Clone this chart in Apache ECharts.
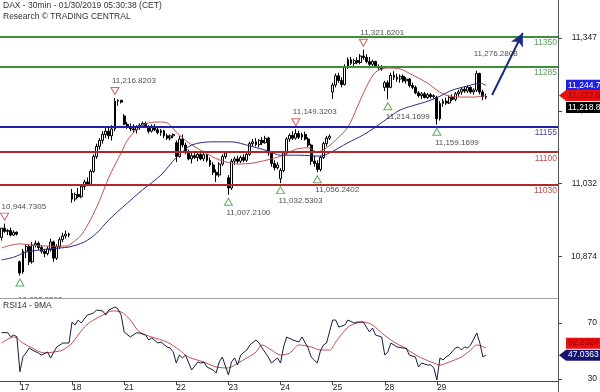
<!DOCTYPE html>
<html><head><meta charset="utf-8">
<script src="https://cdn.jsdelivr.net/npm/echarts@6/dist/echarts.min.js"></script>
<style>html,body{margin:0;padding:0;background:#fff}#c{width:600px;height:392px}</style>
</head><body><div id="c"></div>
<script>
const FONT = '"Liberation Sans", Arial, sans-serif';

// ---- session structure ----
const days = ['16','17','18','21','22','23','24','25','28','29'];
const halfHours = ['09:00','09:30','10:00','10:30','11:00','11:30','12:00','12:30','13:00','13:30','14:00','14:30','15:00','15:30','16:00','16:30','17:00'];
const futureSlots = 23;

// ---- candles: [open, close, low, high] ----
const bars16 = [[10915,10935,10908,10935],[10935,10928,10925,10944.73],[10928,10930,10920,10933],[10930,10920,10917,10936],[10920,10926,10918,10930],[10926,10922,10919,10928]];
const bars17 = [[10862,10838,10832.25,10865],[10840,10885,10836,10890],[10885,10895,10870,10900],[10895,10862,10855,10900],[10862,10898,10858,10905],[10898,10902,10893,10908],[10902,10893,10888,10906],[10893,10885,10880,10898],[10885,10880,10872,10890],[10880,10890,10876,10895],[10888,10905,10884,10912],[10905,10870,10862,10908],[10870,10895,10866,10900],[10895,10910,10890,10915],[10910,10918,10905,10925],[10918,10922,10912,10930],[10922,10920,10915,10925]];
const bars18 = [[11010,10998,10990,11020],[10998,11008,10993,11012],[11008,11003,11000,11022],[11003,11025,11000,11030],[11025,11035,11018,11040],[11035,11030,11028,11045],[11030,11058,11027,11062],[11058,11090,11055,11095],[11090,11112,11085,11118],[11112,11125,11105,11130],[11125,11138,11118,11145],[11138,11145,11130,11152],[11145,11135,11128,11155],[11135,11150,11125,11158],[11150,11210,11145,11216.82],[11210,11212,11200,11214],[11212,11208,11205,11213]];
const bars21 = [[11178,11160,11158,11182],[11160,11155,11150,11165],[11155,11150,11145,11162],[11150,11148,11142,11160],[11148,11155,11140,11158],[11155,11158,11148,11162],[11158,11162,11152,11166],[11162,11155,11152,11166],[11155,11145,11140,11158],[11145,11156,11142,11160],[11156,11148,11145,11160],[11148,11142,11138,11155],[11142,11146,11135,11150],[11146,11135,11130,11148],[11135,11130,11126,11140],[11130,11135,11125,11138],[11135,11138,11130,11140]];
const bars22 = [[11120,11090,11078,11125],[11090,11128,11088,11135],[11128,11115,11110,11138],[11115,11100,11095,11120],[11100,11085,11082,11105],[11085,11092,11075,11098],[11092,11088,11085,11100],[11088,11095,11080,11098],[11095,11085,11082,11100],[11085,11094,11080,11098],[11094,11082,11078,11096],[11082,11072,11068,11088],[11072,11056,11050,11078],[11056,11050,11035,11062],[11050,11074,11046,11078],[11074,11090,11070,11095],[11090,11098,11085,11102]];
const bars23 = [[11044,11022,11007.21,11050],[11022,11080,11018,11085],[11080,11085,11072,11090],[11085,11080,11075,11092],[11080,11088,11076,11092],[11088,11082,11078,11095],[11082,11095,11078,11098],[11095,11118,11092,11122],[11118,11122,11112,11128],[11122,11116,11112,11130],[11116,11125,11110,11128],[11125,11120,11115,11132],[11120,11130,11118,11135],[11130,11098,11092,11133],[11098,11075,11068,11102],[11075,11066,11060,11082],[11066,11072,11062,11078]];
const bars24 = [[11042,11060,11032.53,11065],[11060,11098,11056,11102],[11098,11128,11094,11132],[11128,11136,11122,11140],[11136,11130,11126,11145],[11130,11140,11127,11149.32],[11140,11132,11128,11146],[11132,11138,11126,11142],[11138,11128,11125,11144],[11128,11115,11110,11132],[11115,11080,11072,11118],[11080,11075,11068,11092],[11075,11062,11056.24,11082],[11062,11088,11058,11092],[11088,11118,11085,11122],[11118,11130,11112,11135],[11130,11134,11126,11138]];
const bars25 = [[11230,11245,11215,11250],[11245,11265,11240,11270],[11265,11255,11250,11272],[11255,11246,11240,11262],[11246,11285,11244,11290],[11285,11300,11280,11305],[11300,11292,11288,11306],[11292,11298,11285,11302],[11298,11294,11290,11305],[11294,11308,11290,11312],[11308,11305,11300,11321.62],[11305,11296,11292,11312],[11296,11290,11285,11306],[11290,11296,11284,11300],[11296,11285,11282,11298],[11285,11282,11278,11290],[11282,11280,11276,11288]];
const bars28 = [[11240,11250,11232,11254],[11250,11240,11214.17,11255],[11240,11266,11238,11272],[11266,11262,11256,11275],[11262,11258,11252,11270],[11258,11264,11250,11268],[11264,11254,11250,11268],[11254,11258,11248,11262],[11258,11244,11240,11260],[11244,11240,11236,11250],[11240,11228,11225,11244],[11228,11222,11218,11232],[11222,11226,11215,11230],[11226,11218,11216,11230],[11218,11224,11215,11228],[11224,11220,11216,11228],[11220,11222,11215,11225]];
const bars29 = [[11218,11172,11159.17,11222],[11172,11205,11168,11210],[11205,11210,11198,11215],[11210,11206,11202,11218],[11206,11218,11204,11222],[11218,11214,11210,11225],[11214,11226,11210,11230],[11226,11230,11220,11235],[11230,11236,11224,11240],[11236,11232,11228,11242],[11232,11240,11228,11244],[11240,11230,11226,11242],[11230,11234,11224,11238],[11234,11270,11230,11276.28],[11270,11230,11225,11272],[11230,11220,11212,11235],[11220,11218.8,11214,11226]];
const dayBars = [bars16, bars17, bars18, bars21, bars22, bars23, bars24, bars25, bars28, bars29];

// ---- moving averages: [barIndex, value] ----
const redMA = [[0,10892],[3,10898],[6,10901],[10,10898],[16,10896],[21,10896],[23,10903],[26,10920],[29,10953],[32,10995],[35,11045],[39,11098],[41,11125],[44,11148],[47,11161],[51,11165],[54,11163],[57,11143],[61,11120],[66,11100],[71,11083],[77,11074],[82,11076],[88,11085],[92,11093],[96,11106],[100,11109],[103,11100],[106,11109],[109,11126],[113,11154],[116,11197],[119,11241],[122,11273],[126,11282],[130,11280],[134,11267],[139,11249],[142,11234],[145,11223],[150,11219],[154,11219],[158,11222.6]];
const blueMA = [[0,10866],[4,10872],[8,10883],[13,10888],[19,10892],[22,10894],[27,10905],[31,10924],[35,10953],[41,10989],[46,11018],[52,11050],[57,11088],[62,11115],[69,11122],[75,11122],[81,11113],[87,11102],[91,11093],[97,11093],[104,11091],[107,11098],[113,11120],[118,11137],[122,11154],[127,11178],[130,11191],[134,11200],[139,11210],[143,11221],[147,11234],[152,11243],[156,11249],[158,11244.7]];

// ---- RSI(14) and its 9MA ----
const rsi = [[0,63.1],[2,63.1],[3,60.2],[4,61.4],[5,60.2],[6,35.2],[7,46],[8,48.6],[9,52.1],[10,50.7],[12,48.6],[13,47.1],[15,49.3],[16,45],[18,52.9],[20,55.7],[21,55.7],[22,55.7],[23,70.7],[24,68.6],[25,72.1],[26,70],[27,72.9],[28,75.7],[30,77.1],[31,79.3],[33,78.6],[34,75.7],[35,79.3],[37,81.4],[38,80],[39,75.7],[40,63.6],[42,60],[44,62.9],[45,62.9],[47,61.4],[48,57.9],[49,59.3],[51,55.7],[52,56.4],[54,52.9],[55,52.1],[56,49.3],[57,41.4],[58,47.1],[59,45],[60,47.1],[62,36.4],[64,42.1],[65,41.4],[66,42.1],[67,38.6],[69,36.4],[70,34.3],[71,42.1],[72,45.7],[74,32.9],[75,42.1],[76,45],[77,40],[78,47.1],[80,50.7],[81,54.3],[83,57.9],[84,55.7],[85,52.1],[87,45.7],[88,41.4],[90,45],[91,41.4],[92,52.9],[93,60],[95,57.9],[97,56.4],[98,60],[100,52.1],[101,45.7],[102,43.6],[103,41.4],[104,50],[105,54.3],[106,55.7],[108,72.1],[109,72.1],[110,67.1],[112,68.6],[113,72.1],[115,70],[116,70.7],[118,70.7],[119,67.1],[120,63.6],[121,66.4],[122,61.4],[124,60],[125,47.1],[126,49.3],[127,55.7],[129,52.9],[131,52.1],[132,52.1],[133,47.1],[135,45.7],[136,38.6],[137,41.4],[139,40],[140,40],[141,37.9],[142,29.3],[143,45],[144,43.6],[145,45.7],[146,47.1],[148,52.1],[149,52.9],[150,50.7],[151,52.9],[152,52.1],[153,54.3],[155,62.9],[156,55.7],[157,45.7],[158,47.0363]];
const rsiMA = [[0,55.7],[4,60],[7,55.7],[10,52.1],[14,48.6],[17,49.3],[20,50.7],[23,55.7],[27,67.1],[30,72.1],[33,75.7],[36,78.6],[39,77.9],[42,72.1],[45,63.6],[49,60],[54,56.4],[58,50.7],[61,45.7],[66,42.1],[70,38.6],[74,37.9],[77,41.4],[80,45],[83,49.3],[85,54.3],[88,50.7],[91,47.1],[94,48.6],[97,54.3],[101,52.9],[104,50.7],[107,50.7],[109,56.4],[113,67.1],[116,70],[118,70.7],[121,68.6],[124,62.9],[128,56.4],[131,52.9],[134,48.6],[137,45],[141,41.4],[143,40],[146,42.1],[150,45.7],[153,50.7],[155,54.3],[158,52.2324]];

// ---- pivots ----
const pivotHighs = [[1,10944.7305],[37,11216.8203],[96,11149.3203],[118,11321.6201],[155,11276.2808]];
const pivotLows = [[6,10832.25],[74,11007.21],[91,11032.5303],[103,11056.2402],[126,11214.1699],[142,11159.1699]];

// ---- support / resistance levels ----
const levelValues = [11350, 11285, 11155, 11100, 11030];
const levelKinds  = ['res', 'res', 'pivot', 'sup', 'sup'];
const arrowFrom = [160, 11223.5];
const arrowTo = [170, 11357.8];

// ---- axis ticks ----
const priceTicks = [10874, 11032, 11189, 11347];
const rsiTicks = [30, 70];
const lastClose = 11218.8;

// ---- build ----
const categories = [];
const ohlc = [];
dayBars.forEach((b, di) => {
  const times = halfHours.slice(halfHours.length - b.length);
  b.forEach((bar, k) => { categories.push(days[di] + ' ' + times[k]); ohlc.push(bar); });
});
for (let k = 0; k < futureSlots; k++) categories.push('next ' + k);
const isDayStart = (idx) => /09:00$/.test(categories[idx] || '');

function fmtNum(v, dec) {
  const s = v.toFixed(dec); const parts = s.split('.');
  return parts[0].replace(/\B(?=(\d{3})+$)/g, ',') + (parts[1] ? '.' + parts[1] : '');
}
const kindStyle = {
  res:   {line: '#3c8f3c', text: '#5aa05a'},
  pivot: {line: '#2020a8', text: '#4848a8'},
  sup:   {line: '#b42828', text: '#b85050'}
};

const chart = echarts.init(document.getElementById('c'), null, {renderer: 'canvas'});
const labelFont = {fontFamily: FONT, fontSize: 8.5, color: '#222'};

const option = {
  animation: false,
  textStyle: {fontFamily: FONT},
  grid: [
    {left: 0, top: 0, width: 558, height: 298},
    {left: 0, top: 298, width: 558, height: 83}
  ],
  xAxis: [
    {type: 'category', gridIndex: 0, data: categories, boundaryGap: true,
     axisLine: {show: true, lineStyle: {color: '#444', width: 1}}, axisTick: {show: false}, axisLabel: {show: false}, splitLine: {show: false}},
    {type: 'category', gridIndex: 1, data: categories, boundaryGap: true, z: 60,
     axisLine: {show: true, lineStyle: {color: '#444', width: 1}},
     axisTick: {show: true, alignWithLabel: true, interval: isDayStart, length: 4, lineStyle: {color: '#444'}},
     axisLabel: Object.assign({show: true, interval: isDayStart, formatter: v => v.split(' ')[0], align: 'left', margin: 2}, labelFont),
     splitLine: {show: false}}
  ],
  yAxis: [
    {type: 'value', gridIndex: 0, position: 'right', min: 10783.6, max: 11429.3,
     axisLine: {show: false}, splitLine: {show: false},
     axisTick: {show: true, customValues: priceTicks, length: 4, lineStyle: {color: '#444'}},
     axisLabel: Object.assign({customValues: priceTicks, formatter: v => fmtNum(v, 0), align: 'right', margin: 39}, labelFont)},
    {type: 'value', gridIndex: 1, position: 'right', min: 28.57, max: 87.86, z: 60,
     axisLine: {show: false}, splitLine: {show: false},
     axisTick: {show: true, customValues: rsiTicks, length: 4, lineStyle: {color: '#444'}},
     axisLabel: Object.assign({customValues: rsiTicks, formatter: v => String(v), align: 'right', margin: 39}, labelFont)}
  ],
  series: [
    {type: 'candlestick', name: 'DAX', xAxisIndex: 0, yAxisIndex: 0, data: ohlc, barWidth: 2.4,
     itemStyle: {color: '#ffffff', color0: '#000000', borderColor: '#000000', borderColor0: '#000000', borderWidth: 1},
     markLine: {silent: true, symbol: ['none', 'none'], animation: false,
       data: levelValues.map((v, i) => ({
         yAxis: v,
         lineStyle: {color: kindStyle[levelKinds[i]].line, width: 2, type: 'solid'},
         label: {show: true, position: 'insideEndBottom', formatter: String(v), color: kindStyle[levelKinds[i]].text, fontSize: 8.5, fontFamily: FONT, distance: [1, 2]}
       })).concat([[
         {coord: arrowFrom, symbol: 'none', lineStyle: {color: '#1a2a80', width: 2, type: 'solid'}, label: {show: false}},
         {coord: arrowTo, symbol: 'arrow', symbolSize: [10, 13]}
       ]])
     }},
    {type: 'line', name: 'MA fast', xAxisIndex: 0, yAxisIndex: 0, data: redMA, symbol: 'none', smooth: 0.3,
     lineStyle: {color: '#c0504d', width: 1}, z: 3},
    {type: 'line', name: 'MA slow', xAxisIndex: 0, yAxisIndex: 0, data: blueMA, symbol: 'none', smooth: 0.3,
     lineStyle: {color: '#2a2a8a', width: 1}, z: 3},
    {type: 'scatter', name: 'highs', xAxisIndex: 0, yAxisIndex: 0, z: 5,
     data: pivotHighs.map((p, i) => i === pivotHighs.length - 1 ? {value: p, symbol: 'none'} : {value: p}),
     symbol: 'triangle', symbolRotate: 180, symbolSize: [8, 7], symbolOffset: [0, -7],
     itemStyle: {color: '#ffffff', borderColor: '#c83c3c', borderWidth: 1}},
    {type: 'scatter', name: 'lows', xAxisIndex: 0, yAxisIndex: 0, z: 5,
     data: pivotLows, symbol: 'triangle', symbolSize: [8, 7], symbolOffset: [0, 7],
     itemStyle: {color: '#ffffff', borderColor: '#3a9a3a', borderWidth: 1}},
    {type: 'scatter', name: 'high labels', xAxisIndex: 0, yAxisIndex: 0, z: 5, symbolSize: 1,
     itemStyle: {color: 'rgba(0,0,0,0)'}, data: pivotHighs,
     label: {show: true, position: 'inside', align: 'left', verticalAlign: 'middle', offset: [-3, -17],
       formatter: p => fmtNum(p.value[1], 4), fontSize: 8, fontFamily: FONT, color: '#222'}},
    {type: 'scatter', name: 'low labels', xAxisIndex: 0, yAxisIndex: 0, z: 5, symbolSize: 1,
     itemStyle: {color: 'rgba(0,0,0,0)'},
     data: pivotLows.map((p, i) => ({value: p, label: {offset: [-2, i === 0 ? 24 : 18]}})),
     label: {show: true, position: 'inside', align: 'left', verticalAlign: 'middle', offset: [-2, 18],
       formatter: p => fmtNum(p.value[1], 4), fontSize: 8, fontFamily: FONT, color: '#222'}},
    {type: 'line', name: 'RSI14', xAxisIndex: 1, yAxisIndex: 1, data: rsi, symbol: 'none', z: 61,
     lineStyle: {color: '#1a1a40', width: 1}},
    {type: 'line', name: '9MA', xAxisIndex: 1, yAxisIndex: 1, data: rsiMA, symbol: 'none', smooth: 0.3, z: 60,
     lineStyle: {color: '#c05050', width: 1}}
  ]
};
chart.setOption(option);

const staticGraphics = [
  {type: 'rect', shape: {x: 0, y: 298.5, width: 558, height: 94}, style: {fill: '#fff'}, z: 50, silent: true},
  {type: 'line', shape: {x1: 558.5, y1: 0, x2: 558.5, y2: 392}, style: {stroke: '#555', lineWidth: 1}, z: 100},
  {type: 'text', x: 3, y: 1, style: {text: 'DAX - 30min - 01/30/2019 05:30:38 (CET)', font: '8.5px ' + FONT, fill: '#333'}, z: 100},
  {type: 'text', x: 3, y: 12, style: {text: 'Research \u00A9 TRADING CENTRAL', font: '8.5px ' + FONT, fill: '#333'}, z: 100},
  {type: 'text', x: 3, y: 301, style: {text: 'RSI14 - 9MA', font: '8.5px ' + FONT, fill: '#333'}, z: 100}
];

function tag(y, bg, fg, text, arrow) {
  const h = 11;
  const shape = arrow
    ? {type: 'polygon', shape: {points: [[559, y], [566, y - h / 2], [606, y - h / 2], [606, y + h / 2], [566, y + h / 2]]}, style: {fill: bg}, z: 110}
    : {type: 'rect', shape: {x: 566, y: y - h / 2, width: 40, height: h}, style: {fill: bg}, z: 110};
  return [shape, {type: 'text', x: 568, y: y, style: {text: text, font: '8.5px ' + FONT, fill: fg, verticalAlign: 'middle'}, z: 111}];
}
const yBlue = chart.convertToPixel({yAxisIndex: 0}, blueMA[blueMA.length - 1][1]);
const yRed = chart.convertToPixel({yAxisIndex: 0}, redMA[redMA.length - 1][1]);
const yClose = Math.max(chart.convertToPixel({yAxisIndex: 0}, lastClose), yRed + 12);
const yRsi = chart.convertToPixel({yAxisIndex: 1}, rsi[rsi.length - 1][1]);
const yRsiMA = Math.min(chart.convertToPixel({yAxisIndex: 1}, rsiMA[rsiMA.length - 1][1]), yRsi - 12);

const tags = [].concat(
  tag(yBlue, '#2020e0', '#ffffff', fmtNum(blueMA[blueMA.length - 1][1], 4), false),
  tag(yRed, '#e81010', '#a00000', fmtNum(redMA[redMA.length - 1][1], 4), true),
  tag(yClose, '#000000', '#ffffff', fmtNum(lastClose, 4), false),
  tag(yRsiMA, '#e81010', '#a00000', fmtNum(rsiMA[rsiMA.length - 1][1], 4), false),
  tag(yRsi, '#141470', '#ffffff', fmtNum(rsi[rsi.length - 1][1], 4), true)
);
chart.setOption({graphic: staticGraphics.concat(tags)});
</script></body></html>
